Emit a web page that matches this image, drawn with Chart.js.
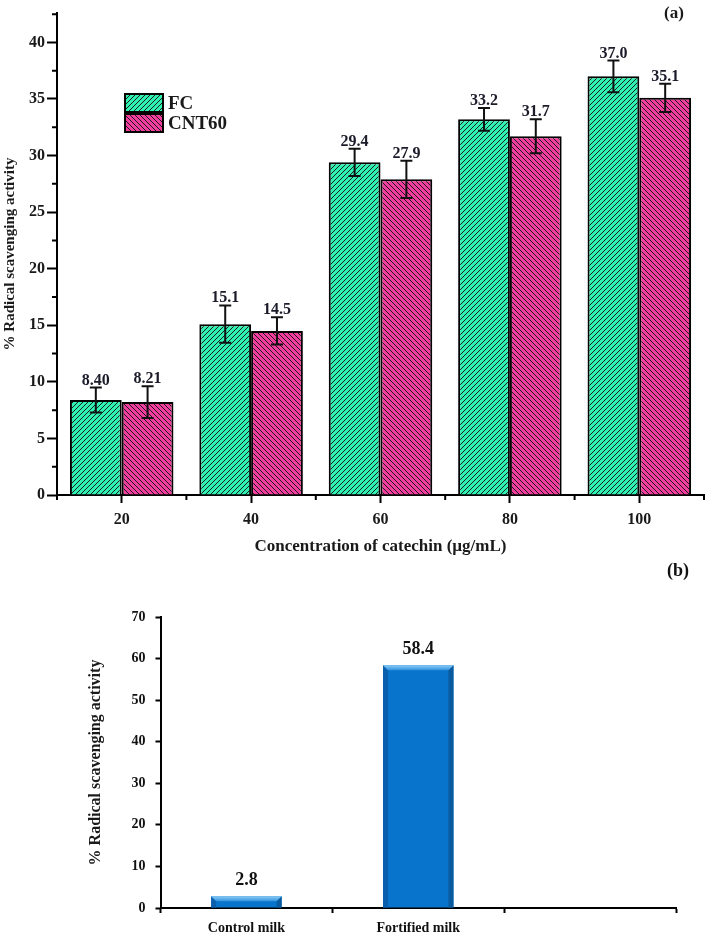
<!DOCTYPE html>
<html>
<head>
<meta charset="utf-8">
<script src="https://cdn.jsdelivr.net/npm/chart.js@4.4.1/dist/chart.umd.min.js"></script>
<style>
  body { margin: 0; background: #fff; }
  #wrap { position: relative; width: 709px; height: 938px; }
  #chartA { position: absolute; left: 0; top: 0; }
  #chartB { position: absolute; left: 0; top: 560px; }
</style>
</head>
<body>
<div id="wrap">
  <canvas id="chartA" width="709" height="560"></canvas>
  <canvas id="chartB" width="709" height="378"></canvas>
</div>
<script>
// ---- panel (a) data ----
const concLabels = ['20', '40', '60', '80', '100'];
const fcValues = [8.40, 15.1, 29.4, 33.2, 37.0];
const fcErrors = [1.1, 1.65, 1.2, 1.0, 1.4];
const cntValues = [8.21, 14.5, 27.9, 31.7, 35.1];
const cntErrors = [1.4, 1.2, 1.65, 1.5, 1.25];

// ---- panel (b) data ----
const milkLabels = ['Control milk', 'Fortified milk', ''];
const milkValues = [2.8, 58.4, null];

const serif = "'Liberation Serif', 'Times New Roman', serif";
Chart.defaults.font.family = serif;
Chart.defaults.font.weight = 'bold';
Chart.defaults.color = '#1a1a1a';

/* hatch fill, dir 1 = '/', -1 = '\' */
function hatch(bg, dir) {
    const size = 5;
    const c = document.createElement('canvas');
    c.width = size; c.height = size;
    const g = c.getContext('2d');
    g.fillStyle = bg;
    g.fillRect(0, 0, size, size);
    g.strokeStyle = '#1c1c1c';
    g.lineWidth = 1;
    g.beginPath();
    if (dir > 0) {
        g.moveTo(0, size); g.lineTo(size, 0);
        g.moveTo(-1, 1); g.lineTo(1, -1);
        g.moveTo(size - 1, size + 1); g.lineTo(size + 1, size - 1);
    } else {
        g.moveTo(0, 0); g.lineTo(size, size);
        g.moveTo(size - 1, -1); g.lineTo(size + 1, 1);
        g.moveTo(-1, size - 1); g.lineTo(1, size + 1);
    }
    g.stroke();
    return g.createPattern(c, 'repeat');
}

const fcFill = hatch('#2ff2b2', 1);
const cntFill = hatch('#f23c9e', -1);

/* error bars, value labels, minor ticks, legend */
const panelA = {
    id: 'panelA',
    afterDatasetsDraw(chart) {
        const ctx = chart.ctx;
        const y = chart.scales.y;
        const errs = [fcErrors, cntErrors];
        ctx.save();
        chart.data.datasets.forEach((ds, di) => {
            chart.getDatasetMeta(di).data.forEach((bar, i) => {
                const v = ds.data[i], e = errs[di][i];
                const top = y.getPixelForValue(v + e);
                const bot = y.getPixelForValue(v - e);
                ctx.strokeStyle = '#111';
                ctx.lineWidth = 2;
                ctx.beginPath();
                ctx.moveTo(bar.x, top); ctx.lineTo(bar.x, bot);
                ctx.moveTo(bar.x - 6, top); ctx.lineTo(bar.x + 6, top);
                ctx.moveTo(bar.x - 6, bot); ctx.lineTo(bar.x + 6, bot);
                ctx.stroke();
                ctx.fillStyle = '#1b1b2a';
                ctx.font = 'bold 16px ' + serif;
                ctx.textAlign = 'center';
                ctx.textBaseline = 'alphabetic';
                ctx.fillText(v.toPrecision(3), bar.x, top - 3);
            });
        });
        ctx.restore();
    },
    afterDraw(chart) {
        const ctx = chart.ctx;
        const y = chart.scales.y;
        const area = chart.chartArea;
        ctx.save();
        ctx.strokeStyle = '#000';
        ctx.lineWidth = 2;
        ctx.beginPath();
        // minor y ticks
        for (let v = 2.5; v < y.max; v += 5) {
            const py = y.getPixelForValue(v);
            ctx.moveTo(area.left, py); ctx.lineTo(area.left - 5, py);
        }
        // category boundary ticks
        const n = concLabels.length;
        for (let i = 0; i <= n; i++) {
            const px = area.left + (area.right - area.left) * i / n;
            ctx.moveTo(px, area.bottom); ctx.lineTo(px, area.bottom + 5);
        }
        ctx.stroke();

        // legend
        const items = [[fcFill, 'FC'], [cntFill, 'CNT60']];
        items.forEach((it, k) => {
            const bx = 125, by = 94 + k * 20;
            ctx.fillStyle = it[0];
            ctx.fillRect(bx, by, 38, 18);
            ctx.lineWidth = 2;
            ctx.strokeStyle = '#000';
            ctx.strokeRect(bx, by, 38, 18);
            ctx.fillStyle = '#1a1a1a';
            ctx.font = 'bold 19px ' + serif;
            ctx.textAlign = 'left';
            ctx.textBaseline = 'middle';
            ctx.fillText(it[1], 168, by + 10);
        });

        ctx.font = 'bold 17px ' + serif;
        ctx.textAlign = 'center';
        ctx.textBaseline = 'middle';
        ctx.fillText('(a)', 674, 14);
        ctx.restore();
    }
};

new Chart(document.getElementById('chartA'), {
    type: 'bar',
    data: {
        labels: concLabels,
        datasets: [
            { label: 'FC', data: fcValues, backgroundColor: fcFill, borderColor: '#000', borderWidth: 2 },
            { label: 'CNT60', data: cntValues, backgroundColor: cntFill, borderColor: '#000', borderWidth: 2 }
        ]
    },
    options: {
        responsive: false,
        animation: false,
        layout: { padding: { top: 13, right: 5, left: 0, bottom: 0 } },
        datasets: { bar: { categoryPercentage: 0.8, barPercentage: 1.0 } },
        plugins: { legend: { display: false }, tooltip: { enabled: false } },
        scales: {
            x: {
                grid: { drawOnChartArea: false, offset: false, tickLength: 8, tickWidth: 2, tickColor: '#000' },
                border: { color: '#000', width: 2 },
                ticks: { font: { size: 16, weight: 'bold' }, padding: 7, color: '#1a1a1a' },
                title: {
                    display: true,
                    text: 'Concentration of catechin (µg/mL)',
                    font: { size: 17, weight: 'bold' },
                    padding: { top: 4, bottom: 3 }
                },
                afterFit(scale) { scale.height = 65; }
            },
            y: {
                min: 0,
                max: 42.6,
                grid: { drawOnChartArea: false, tickLength: 10, tickWidth: 2, tickColor: '#000' },
                border: { color: '#000', width: 2 },
                ticks: { stepSize: 5, includeBounds: false, font: { size: 16, weight: 'bold' }, padding: 2, color: '#1a1a1a' },
                title: {
                    display: true,
                    text: '% Radical scavenging activity',
                    font: { size: 15, weight: 'bold' },
                    padding: { top: 1, bottom: 0 }
                },
                afterFit(scale) { scale.width = 57; }
            }
        }
    },
    plugins: [panelA]
});

/* bevelled bars + value labels for panel (b) */
const panelB = {
    id: 'panelB',
    afterDatasetsDraw(chart) {
        const ctx = chart.ctx;
        ctx.save();
        chart.getDatasetMeta(0).data.forEach((bar, i) => {
            const v = milkValues[i];
            if (v == null) return;
            const l = bar.x - bar.width / 2, r = bar.x + bar.width / 2;
            const t = bar.y, b = bar.base;
            const bev = Math.min(5, (b - t) / 2);
            // side bevels
            ctx.fillStyle = '#0a60ad';
            ctx.beginPath();
            ctx.moveTo(l, t); ctx.lineTo(l + bev, t + bev); ctx.lineTo(l + bev, b); ctx.lineTo(l, b);
            ctx.closePath(); ctx.fill();
            ctx.fillStyle = '#0a5a9f';
            ctx.beginPath();
            ctx.moveTo(r, t); ctx.lineTo(r - bev, t + bev); ctx.lineTo(r - bev, b); ctx.lineTo(r, b);
            ctx.closePath(); ctx.fill();
            // top bevel
            const grad = ctx.createLinearGradient(0, t, 0, t + bev);
            grad.addColorStop(0, '#8ccbf5');
            grad.addColorStop(1, '#2f92de');
            ctx.fillStyle = grad;
            ctx.beginPath();
            ctx.moveTo(l, t); ctx.lineTo(r, t); ctx.lineTo(r - bev, t + bev); ctx.lineTo(l + bev, t + bev);
            ctx.closePath(); ctx.fill();

            ctx.fillStyle = '#111';
            ctx.font = 'bold 18px ' + serif;
            ctx.textAlign = 'center';
            ctx.textBaseline = 'alphabetic';
            ctx.fillText(v.toFixed(1), bar.x, t - 11);
        });
        ctx.font = 'bold 18px ' + serif;
        ctx.textAlign = 'center';
        ctx.textBaseline = 'middle';
        ctx.fillStyle = '#111';
        ctx.fillText('(b)', 678, 11);
        ctx.restore();
    }
};

new Chart(document.getElementById('chartB'), {
    type: 'bar',
    data: {
        labels: milkLabels,
        datasets: [
            { data: milkValues, backgroundColor: '#0974cb', borderWidth: 0 }
        ]
    },
    options: {
        responsive: false,
        animation: false,
        layout: { padding: { top: 57, right: 33, left: 0, bottom: 0 } },
        datasets: { bar: { categoryPercentage: 1.0, barPercentage: 0.41 } },
        plugins: { legend: { display: false }, tooltip: { enabled: false } },
        scales: {
            x: {
                grid: { drawOnChartArea: false, offset: true, tickLength: 5, tickWidth: 2, tickColor: '#000' },
                border: { color: '#000', width: 2 },
                ticks: { font: { size: 14, weight: 'bold' }, padding: 7, color: '#111' },
                afterFit(scale) { scale.height = 30; }
            },
            y: {
                min: 0,
                max: 70,
                grid: { drawOnChartArea: false, tickLength: 5, tickWidth: 2, tickColor: '#000' },
                border: { color: '#000', width: 2 },
                ticks: { stepSize: 10, font: { size: 14, weight: 'bold' }, padding: 10, color: '#111' },
                title: {
                    display: true,
                    text: '% Radical scavenging activity',
                    font: { size: 16, weight: 'bold' },
                    padding: { top: 86, bottom: 0 }
                },
                afterFit(scale) { scale.width = 160.5; }
            }
        }
    },
    plugins: [panelB]
});
</script>
</body>
</html>
